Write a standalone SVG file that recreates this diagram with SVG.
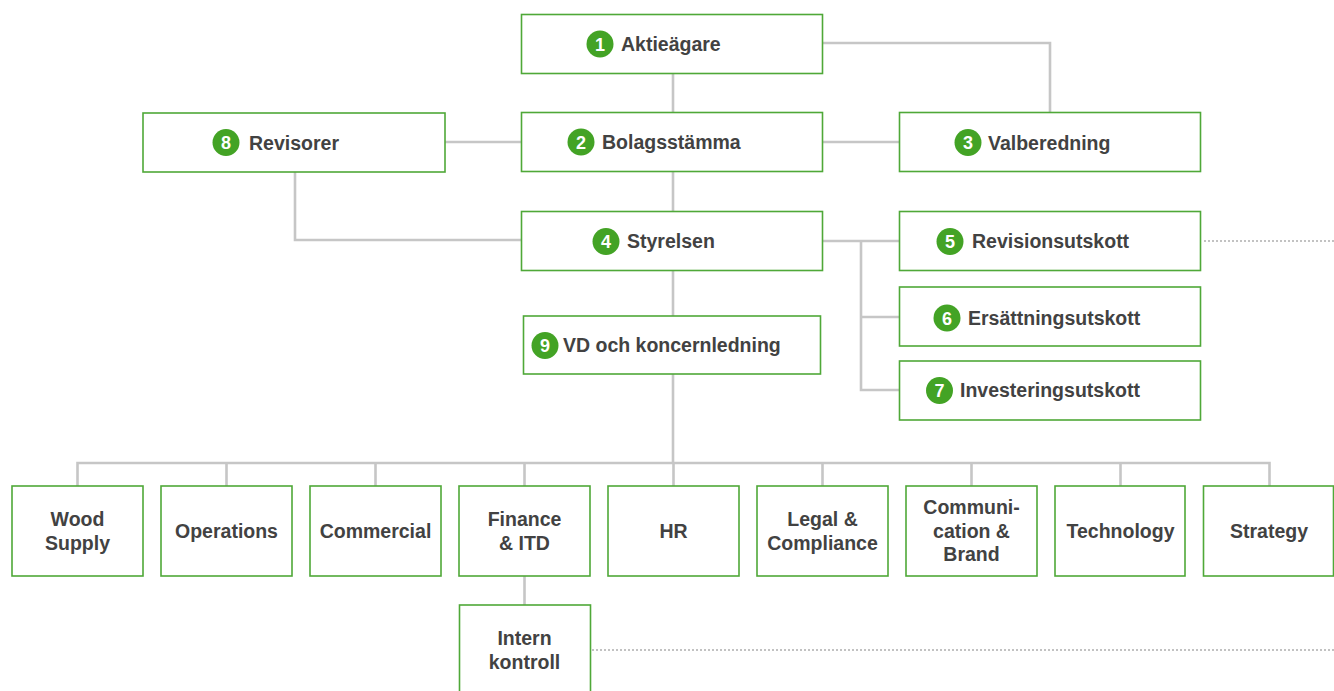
<svg xmlns="http://www.w3.org/2000/svg" width="1334" height="691" viewBox="0 0 1334 691">
<style>
.box{fill:#fff;stroke:#4fa838;stroke-width:1.6}
.t{font-family:"Liberation Sans",Arial,sans-serif;font-weight:bold;font-size:19.5px;fill:#424242}
.c{text-anchor:middle}
.badge{fill:#43a325}
.n{font-family:"Liberation Sans",Arial,sans-serif;font-weight:bold;font-size:18px;fill:#fff;text-anchor:middle}
.ln{fill:none;stroke:#c6c6c6;stroke-width:2.6}
.dot{fill:none;stroke:#c2c2c2;stroke-width:2;stroke-dasharray:2 2}
</style>
<rect width="1334" height="691" fill="#fff"/>
<g id="connectors">
<path class="ln" d="M673 73V113M673 171V211M673 270V316M673 374V463"/>
<path class="ln" d="M823 43H1050V113"/>
<path class="ln" d="M823 142H900M445 142H521"/>
<path class="ln" d="M295 172V240H521"/>
<path class="ln" d="M823 241H900M861 241V390H900M861 317H900"/>
<path class="ln" d="M77.5 486V463H1269.5V486M226.5 463V486M375.5 463V486M524.5 463V486M673.5 463V486M822.5 463V486M971.5 463V486M1120.5 463V486"/>
<path class="ln" d="M524.5 576V605"/>
<path class="dot" d="M1204 241H1334M592 650H1334"/>
</g>
<g id="n1"><rect class="box" x="521.5" y="14.5" width="301" height="59"/><circle class="badge" cx="600" cy="44" r="13.5"/><text class="n" x="600" y="50.5">1</text><text class="t" x="621" y="51">Aktieägare</text></g>
<g id="n2"><rect class="box" x="521.5" y="112.5" width="301" height="59"/><circle class="badge" cx="581" cy="142" r="13.5"/><text class="n" x="581" y="148.5">2</text><text class="t" x="602" y="149">Bolagsstämma</text></g>
<g id="n3"><rect class="box" x="899.5" y="112.5" width="301" height="59"/><circle class="badge" cx="968" cy="142.5" r="13.5"/><text class="n" x="968" y="149">3</text><text class="t" x="988" y="149.5">Valberedning</text></g>
<g id="n8"><rect class="box" x="143" y="113" width="302" height="59"/><circle class="badge" cx="226" cy="142.5" r="13.5"/><text class="n" x="226" y="149">8</text><text class="t" x="249" y="149.5">Revisorer</text></g>
<g id="n4"><rect class="box" x="521.5" y="211.5" width="301" height="59"/><circle class="badge" cx="606" cy="241.5" r="13.5"/><text class="n" x="606" y="248">4</text><text class="t" x="627" y="248">Styrelsen</text></g>
<g id="n5"><rect class="box" x="899.5" y="211.5" width="301" height="59"/><circle class="badge" cx="950" cy="241.5" r="13.5"/><text class="n" x="950" y="248">5</text><text class="t" x="972" y="248">Revisionsutskott</text></g>
<g id="n6"><rect class="box" x="899.5" y="287" width="301" height="59"/><circle class="badge" cx="947" cy="318" r="13.5"/><text class="n" x="947" y="324.5">6</text><text class="t" x="968" y="324.5">Ersättningsutskott</text></g>
<g id="n7"><rect class="box" x="899.5" y="361" width="301" height="59"/><circle class="badge" cx="939.5" cy="390.5" r="13.5"/><text class="n" x="939.5" y="397">7</text><text class="t" x="960" y="397">Investeringsutskott</text></g>
<g id="n9"><rect class="box" x="523.5" y="316" width="297" height="58"/><circle class="badge" cx="545" cy="345.5" r="13.5"/><text class="n" x="545" y="352">9</text><text class="t" x="563" y="352">VD och koncernledning</text></g>
<g id="wood"><rect class="box" x="12" y="486" width="131" height="90"/><text class="t c" x="77.5" y="526">Wood</text><text class="t c" x="77.5" y="550">Supply</text></g>
<g id="operations"><rect class="box" x="161" y="486" width="131" height="90"/><text class="t c" x="226.5" y="538">Operations</text></g>
<g id="commercial"><rect class="box" x="310" y="486" width="131" height="90"/><text class="t c" x="375.5" y="538">Commercial</text></g>
<g id="finance"><rect class="box" x="459" y="486" width="131" height="90"/><text class="t c" x="524.5" y="526">Finance</text><text class="t c" x="524.5" y="550">&amp; ITD</text></g>
<g id="hr"><rect class="box" x="608" y="486" width="131" height="90"/><text class="t c" x="673.5" y="538">HR</text></g>
<g id="legal"><rect class="box" x="757" y="486" width="131" height="90"/><text class="t c" x="822.5" y="526">Legal &amp;</text><text class="t c" x="822.5" y="550">Compliance</text></g>
<g id="comm"><rect class="box" x="906" y="486" width="131" height="90"/><text class="t c" x="971.5" y="514">Communi-</text><text class="t c" x="971.5" y="537.5">cation &amp;</text><text class="t c" x="971.5" y="561">Brand</text></g>
<g id="technology"><rect class="box" x="1055" y="486" width="130" height="90"/><text class="t c" x="1120.5" y="538">Technology</text></g>
<g id="strategy"><rect class="box" x="1203.5" y="486" width="130" height="90"/><text class="t c" x="1269" y="538">Strategy</text></g>
<g id="intern"><rect class="box" x="459.5" y="605" width="131" height="100"/><text class="t c" x="524.5" y="645">Intern</text><text class="t c" x="524.5" y="668.5">kontroll</text></g>
</svg>
